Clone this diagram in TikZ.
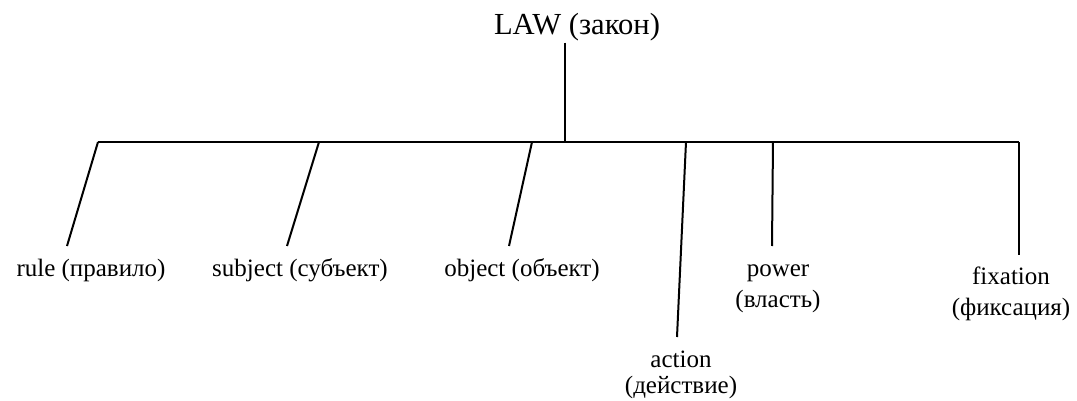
\documentclass[tikz,border=0pt]{standalone}
\usepackage{fontspec}
\setmainfont{Liberation Serif}
\tikzset{lbl/.style={anchor=base,inner sep=0pt,align=center,font=\fontsize{12.5}{13}\selectfont}}
\begin{document}
\begin{tikzpicture}[x=0.5pt,y=-0.5pt,line width=1pt]
	\useasboundingbox (0,0) rectangle (1077,401);
	\node[anchor=base,inner sep=0pt,font=\fontsize{15.3}{18}\selectfont] (law) at (577,35) {LAW (закон)};
	\coordinate (hub) at (565,142);
	\coordinate (barl) at (98,142);
	\coordinate (barr) at (1019,142);
	\coordinate (trule) at (98,142);
	\coordinate (erule) at (67,246);
	\coordinate (tsubj) at (319,142);
	\coordinate (esubj) at (287,246);
	\coordinate (tobj) at (532,142);
	\coordinate (eobj) at (509,246);
	\coordinate (tact) at (686,142);
	\coordinate (eact) at (677,337);
	\coordinate (tpow) at (773,142);
	\coordinate (epow) at (772,246);
	\coordinate (tfix) at (1019,142);
	\coordinate (efix) at (1019,255);
	\node[lbl] (rule) at (91,276) {rule (правило)};
	\node[lbl] (subj) at (300,276) {subject (субъект)};
	\node[lbl] (obj) at (522,276) {object (объект)};
	\node[lbl] (act) at (681,393) {action\\(действие)};
	\node[lbl] (pow) at (778,307) {power\\[2.5pt](власть)};
	\node[lbl] (fix) at (1011,315) {fixation\\[2.5pt](фиксация)};
	\draw (law.south -| hub) -- (hub);
	\draw (barl) -- (barr);
	\draw (trule) -- (erule);
	\draw (tsubj) -- (esubj);
	\draw (tobj) -- (eobj);
	\draw (tact) -- (eact);
	\draw (tpow) -- (epow);
	\draw (tfix) -- (efix);
\end{tikzpicture}
\end{document}
